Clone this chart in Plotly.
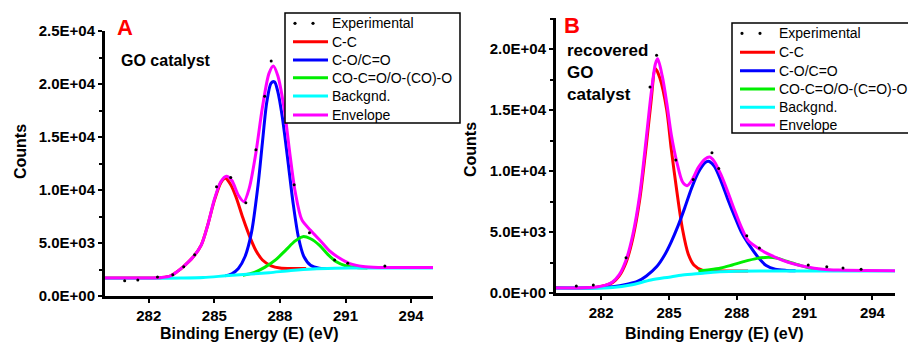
import plotly.graph_objects as go

# ---- panel A : GO catalyst ----
a_env_x = [280.0, 281.0, 282.0, 282.6, 283.0, 283.3, 283.6, 284.0, 284.4, 284.7, 285.0, 285.3,
           285.55, 285.8, 286.1, 286.35, 286.6, 286.9, 287.2, 287.5, 287.7, 287.9, 288.2, 288.45,
           288.7, 289.0, 289.4, 289.9, 290.3, 290.7, 291.2, 291.8, 292.5, 295.0]
a_env_y = [1700, 1700, 1700, 1750, 1900, 2300, 2800, 3600, 4800, 6700, 9100, 10800,
           11300, 10900, 9500, 8900, 10200, 13500, 17800, 21000, 21700, 20800, 17600, 13500,
           9800, 7200, 6200, 5100, 4200, 3600, 3050, 2780, 2700, 2700]

a_cc_x = [280.0, 282.0, 282.6, 283.0, 283.3, 283.6, 284.0, 284.4, 284.7, 285.0, 285.3, 285.5,
          285.75, 286.0, 286.3, 286.6, 286.9, 287.2, 287.6, 288.0, 288.6, 289.2]
a_cc_y = [1700, 1700, 1750, 1900, 2300, 2800, 3600, 4800, 6700, 9000, 10700, 11100,
          10500, 9300, 7400, 5700, 4300, 3400, 2850, 2650, 2600, 2600]

a_co_x = [285.5, 285.8, 286.1, 286.4, 286.7, 287.0, 287.2, 287.4, 287.6, 287.75, 287.9, 288.1,
          288.35, 288.6, 288.85, 289.1, 289.4, 289.8, 290.2]
a_co_y = [1900, 2100, 2600, 3700, 6000, 10500, 14500, 18300, 20100, 20200, 19300, 17000,
          13000, 8800, 5500, 3700, 2900, 2620, 2600]

a_coo_x = [286.3, 286.8, 287.3, 287.8, 288.3, 288.7, 289.05, 289.4, 289.8, 290.2, 290.6, 291.0,
           291.5, 292.0]
a_coo_y = [1950, 2200, 2700, 3400, 4400, 5200, 5600, 5400, 4800, 3900, 3200, 2850, 2680, 2650]

a_bg_x = [280.0, 282.5, 283.5, 284.5, 285.5, 286.5, 287.5, 288.5, 289.5, 290.5, 291.5, 295.0]
a_bg_y = [1680, 1680, 1700, 1750, 1900, 2050, 2200, 2400, 2550, 2620, 2650, 2650]

a_exp_x = [280.9, 281.5, 282.4, 283.1, 283.6, 284.1, 285.1, 285.75, 286.44, 286.9, 287.3, 287.6,
           288.65, 289.35, 290.5, 291.1, 292.8]
a_exp_y = [1450, 1500, 1800, 2000, 2750, 3900, 10300, 11170, 8800, 13800, 18850, 22160,
           10500, 5960, 3400, 3100, 2840]

# ---- panel B : recovered GO catalyst ----
b_env_x = [280.0, 281.0, 281.8, 282.2, 282.5, 282.8, 283.1, 283.4, 283.7, 284.0, 284.2, 284.4,
           284.5, 284.7, 284.9, 285.1, 285.35, 285.6, 285.8, 286.0, 286.3, 286.6, 286.8, 287.0,
           287.3, 287.6, 287.9, 288.2, 288.5, 289.0, 289.5, 290.0, 290.5, 291.0, 291.8, 292.5, 295.0]
b_env_y = [400, 420, 500, 650, 900, 1500, 2700, 4800, 8000, 12800, 16200, 18800,
           19200, 17800, 15600, 13000, 10700, 9100, 8800, 9200, 10300, 11000, 11150, 10800,
           9700, 8300, 6800, 5400, 4300, 3600, 3100, 2700, 2400, 2180, 1950, 1880, 1830]

b_cc_x = [280.0, 281.8, 282.5, 282.8, 283.1, 283.4, 283.7, 284.0, 284.2, 284.4, 284.6, 284.9,
          285.1, 285.35, 285.6, 285.85, 286.1, 286.5, 287.5, 288.5]
b_cc_y = [400, 480, 850, 1400, 2500, 4500, 7600, 12200, 15600, 18400, 17600, 15000,
          11800, 8300, 5200, 3200, 2300, 1850, 1800, 1800]

b_co_x = [280.0, 281.5, 282.5, 283.2, 283.6, 284.0, 284.45, 284.8, 285.1, 285.4, 285.7, 286.0,
          286.3, 286.6, 286.75, 287.0, 287.3, 287.6, 287.9, 288.2, 288.6, 289.0, 289.3, 289.7,
          290.2, 290.6]
b_co_y = [400, 420, 520, 750, 950, 1400, 2150, 3100, 4200, 5500, 7000, 8600,
          9900, 10700, 10800, 10400, 9200, 7700, 6300, 5000, 3800, 2800, 2250, 1950,
          1850, 1820]

b_coo_x = [286.3, 286.8, 287.3, 287.8, 288.3, 288.9, 289.4, 289.8, 290.2, 290.7, 291.2, 291.7, 292.2]
b_coo_y = [1800, 1900, 2050, 2300, 2570, 2840, 2930, 2850, 2600, 2320, 2050, 1900, 1850]

b_bg_x = [280.0, 281.5, 282.5, 283.3, 284.2, 285.0, 285.6, 286.5, 287.1, 288.0, 289.0, 295.0]
b_bg_y = [380, 390, 450, 650, 1070, 1300, 1470, 1620, 1730, 1780, 1800, 1800]

b_exp_x = [280.9, 281.65, 283.1, 284.16, 284.45, 285.3, 286.07, 286.9, 287.2, 288.44, 289.0,
           291.16, 291.98, 292.7, 293.5]
b_exp_y = [570, 650, 2900, 16900, 19500, 10900, 9300, 11500, 10200, 4700, 3700,
           2300, 2150, 2050, 1950]

x_ticks = [282, 285, 288, 291, 294]
a_yticks = [0, 5000, 10000, 15000, 20000, 25000]
a_ylabels = ["0.0E+00", "5.0E+03", "1.0E+04", "1.5E+04", "2.0E+04", "2.5E+04"]
b_yticks = [0, 5000, 10000, 15000, 20000]
b_ylabels = ["0.0E+00", "5.0E+03", "1.0E+04", "1.5E+04", "2.0E+04"]

a_legend = ["Experimental", "C-C", "C-O/C=O", "CO-C=O/O-(CO)-O", "Backgnd.", "Envelope"]
b_legend = ["Experimental", "C-C", "C-O/C=O", "CO-C=O/O-(C=O)-O", "Backgnd.", "Envelope"]
colors = ["#ff0000", "#0000ff", "#00ee00", "#00ffff", "#ff00ff"]

FONT = "Liberation Sans, Arial, sans-serif"
W, H = 908, 344

fig = go.Figure()


def add_panel(xa, ya, names, curves, exp):
    # curves in legend order: C-C, C-O, CO-C, background, envelope
    for name, (xs, ys), col in zip(names[1:], curves, colors):
        fig.add_trace(go.Scatter(x=xs, y=ys, mode="lines", name=name, showlegend=False,
                                 line=dict(color=col, width=3, shape="spline", smoothing=0.8),
                                 xaxis=xa, yaxis=ya))
    fig.add_trace(go.Scatter(x=exp[0], y=exp[1], mode="markers", name=names[0],
                             showlegend=False, marker=dict(color="black", size=3),
                             xaxis=xa, yaxis=ya))


def add_legend(names, left, right, top, bottom, rows, line_x0, line_x1, dots):
    # boxed legend like the original figure (pixel positions -> paper coords)
    fx = lambda v: v / W
    fy = lambda v: (H - v) / H
    fig.add_shape(type="rect", xref="paper", yref="paper", x0=fx(left), x1=fx(right),
                  y0=fy(bottom), y1=fy(top), line=dict(color="black", width=1.5),
                  fillcolor="white", layer="above")
    for d in dots:
        fig.add_shape(type="circle", xref="paper", yref="paper", x0=fx(d - 1.6), x1=fx(d + 1.6),
                      y0=fy(rows[0] + 1.6), y1=fy(rows[0] - 1.6), fillcolor="black",
                      line=dict(width=0), layer="above")
    for r, col in zip(rows[1:], colors):
        fig.add_shape(type="line", xref="paper", yref="paper", x0=fx(line_x0), x1=fx(line_x1),
                      y0=fy(r), y1=fy(r), line=dict(color=col, width=3), layer="above")
    for r, name in zip(rows, names):
        fig.add_annotation(text=name, x=fx(line_x1 + 2), y=fy(r), xref="paper", yref="paper",
                           xanchor="left", yanchor="middle", showarrow=False,
                           font=dict(family=FONT, size=14, color="black"))


add_panel("x", "y", a_legend,
          [(a_cc_x, a_cc_y), (a_co_x, a_co_y), (a_coo_x, a_coo_y), (a_bg_x, a_bg_y),
           (a_env_x, a_env_y)], (a_exp_x, a_exp_y))
add_panel("x2", "y2", b_legend,
          [(b_cc_x, b_cc_y), (b_co_x, b_co_y), (b_coo_x, b_coo_y), (b_bg_x, b_bg_y),
           (b_env_x, b_env_y)], (b_exp_x, b_exp_y))

add_legend(a_legend, 285, 460, 13, 123, [23.3, 41.7, 60, 77.7, 96, 115], 293, 328, [295, 313])
add_legend(b_legend, 732, 912, 23, 133, [33.3, 52.3, 70.7, 89, 107.3, 125], 740, 775, [742, 760])

xcommon = dict(range=[280, 295], tickvals=x_ticks, ticks="outside", ticklen=4, tickwidth=2,
               tickcolor="black", showline=True, linecolor="black", linewidth=3,
               showgrid=False, zeroline=False,
               tickfont=dict(family=FONT, size=15, color="black", weight="bold"))
ycommon = dict(ticks="outside", ticklen=4, tickwidth=2, tickcolor="black", showline=True,
               linecolor="black", linewidth=3, showgrid=False, zeroline=False,
               minor=dict(tickmode="linear", tick0=0, dtick=2500, ticks="outside",
                          ticklen=3, tickwidth=2, tickcolor="black"),
               tickfont=dict(family=FONT, size=15, color="black", weight="bold"))

fig.update_layout(
    width=W, height=H,
    margin=dict(l=0, r=0, t=0, b=0, autoexpand=False),
    paper_bgcolor="white", plot_bgcolor="white",
    showlegend=False,
    xaxis=dict(domain=[105 / W, 433 / W], anchor="y", **xcommon),
    yaxis=dict(domain=[(H - 296) / H, (H - 31) / H], anchor="x", range=[0, 25000],
               tickvals=a_yticks, ticktext=a_ylabels, **ycommon),
    xaxis2=dict(domain=[556 / W, 895 / W], anchor="y2", **xcommon),
    yaxis2=dict(domain=[(H - 293) / H, (H - 18) / H], anchor="x2", range=[0, 22550],
                tickvals=b_yticks, ticktext=b_ylabels, **ycommon),
)

bold = dict(family=FONT, color="black", weight="bold")
notes = [
    dict(text="A", x=115, y=27, font=dict(family=FONT, size=22, color="#ff0000", weight="bold")),
    dict(text="GO catalyst", x=119, y=61, font=dict(size=16, **bold)),
    dict(text="B", x=562, y=25, font=dict(family=FONT, size=22, color="#ff0000", weight="bold")),
    dict(text="recovered<br>GO<br>catalyst", x=565, y=72, font=dict(size=17, **bold)),
]
for n in notes:
    fig.add_annotation(text=n["text"], x=n["x"] / W, y=(H - n["y"]) / H, xref="paper",
                       yref="paper", xanchor="left", yanchor="middle", showarrow=False,
                       align="left", font=n["font"])

# axis titles
for txt, px, py, ang in [("Counts", 20, 152, -90), ("Counts", 470, 150, -90),
                         ("Binding Energy (E) (eV)", 249, 333, 0),
                         ("Binding Energy (E) (eV)", 714, 333, 0)]:
    fig.add_annotation(text=txt, x=px / W, y=(H - py) / H, xref="paper", yref="paper",
                       xanchor="center", yanchor="middle", showarrow=False, textangle=ang,
                       font=dict(size=16, **bold))

fig.write_html("out.html", config={"displayModeBar": False},
               post_script="document.body.style.margin='0';")
